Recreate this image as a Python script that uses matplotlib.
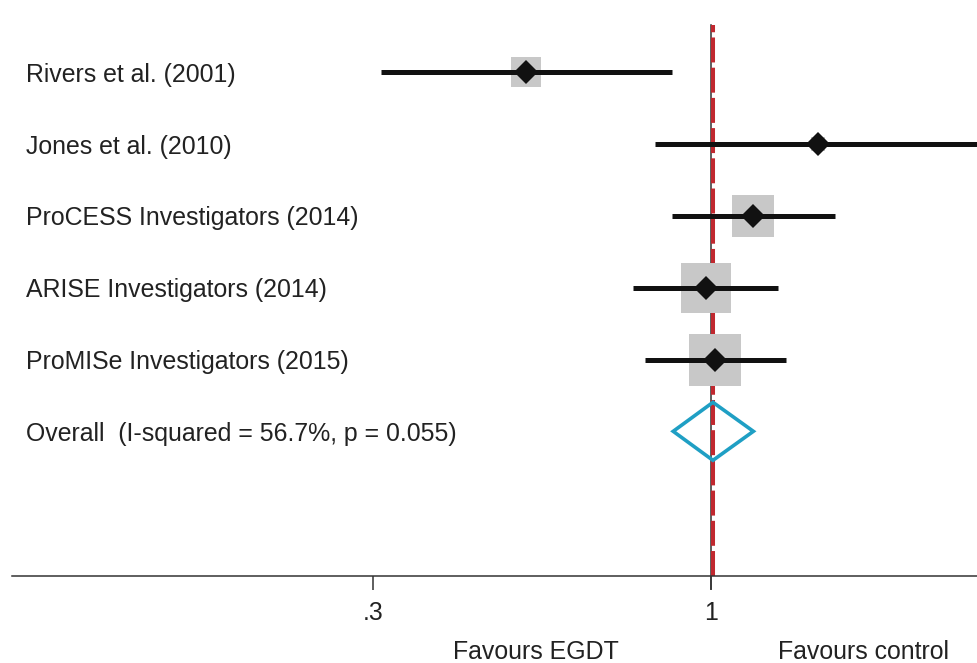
import numpy as np
import matplotlib
matplotlib.use("Agg")
import matplotlib.pyplot as plt
from matplotlib.patches import Polygon
from matplotlib.ticker import FixedLocator, FixedFormatter, NullLocator

# study data (odds ratio, 95% CI, weight %)
studies = ["Rivers et al. (2001)", "Jones et al. (2010)", "ProCESS Investigators (2014)",
           "ARISE Investigators (2014)", "ProMISe Investigators (2015)"]
estimates = [0.518, 1.463, 1.163, 0.982, 1.014]
lower_ci = [0.309, 0.819, 0.869, 0.758, 0.790]
upper_ci = [0.869, 3.20, 1.556, 1.271, 1.305]
weights = [11.0, 2.4, 22.7, 30.7, 33.2]

overall_label = "Overall  (I-squared = 56.7%, p = 0.055)"
overall_est = 1.007
overall_lo = 0.874
overall_hi = 1.163

tick_values = [0.3, 1]
tick_labels = [".3", "1"]
side_labels = ["Favours EGDT", "Favours control"]

plt.rcParams['font.family'] = ['Liberation Sans', 'DejaVu Sans']
FS = 17.9

fig = plt.figure(figsize=(9.78, 6.63), dpi=100)
ax = fig.add_axes([12 / 978, 1 - 576 / 663, 966 / 978, 551 / 663])
ax.set_xscale("log")
ax.set_xlim(0.0828, 2.59)
ax.set_ylim(7.015, -0.659)

# null line at 1
ax.plot([1, 1], [-0.659, 7.2], color="#333333", lw=1.1, zorder=1, clip_on=False)
# overall estimate line
ax.axvline(overall_est, color="#c0282f", lw=2.9, ls=(0, (6.2, 1.3)),
           dash_capstyle="butt", zorder=2)

label_drop = 0.131  # baseline sits a bit below the row centre

for i, (name, est, lo, hi, w) in enumerate(zip(studies, estimates, lower_ci, upper_ci, weights)):
    side_px = 9.02 * np.sqrt(w)
    ax.plot(est, i, marker="s", ms=side_px * 0.72, color="#c8c8c8", mew=0, zorder=3)
    ax.plot([lo, hi], [i, i], color="#111111", lw=3.6, solid_capstyle="butt", zorder=4)
    ax.plot(est, i, marker="D", ms=12.3, color="#111111", mew=0, zorder=5)
    ax.text(0.0145, i + label_drop, name, transform=ax.get_yaxis_transform(), ha="left",
            va="baseline", fontsize=FS, color="#222222")

# overall diamond
yo = len(studies)
dia = Polygon([[overall_lo, yo], [overall_est, yo - 0.404], [overall_hi, yo], [overall_est, yo + 0.404]],
              closed=True, fill=False, edgecolor="#1f9fc4", lw=2.6, zorder=6)
ax.add_patch(dia)
ax.text(0.0145, yo + label_drop, overall_label, transform=ax.get_yaxis_transform(), ha="left",
        va="baseline", fontsize=FS, color="#222222")

# axes styling
for s in ["left", "right", "top"]:
    ax.spines[s].set_visible(False)
ax.spines["bottom"].set_color("#333333")
ax.spines["bottom"].set_linewidth(1.1)
ax.yaxis.set_visible(False)
ax.xaxis.set_major_locator(FixedLocator(tick_values))
ax.xaxis.set_major_formatter(FixedFormatter(tick_labels))
ax.xaxis.set_minor_locator(NullLocator())
ax.tick_params(axis="x", direction="out", length=10, width=1.1, color="#333333",
               pad=8, labelsize=FS, labelcolor="#222222")

ax.text(0.5424, -0.150, side_labels[0], transform=ax.transAxes, ha="center", va="baseline",
        fontsize=FS, color="#222222")
ax.text(0.8815, -0.150, side_labels[1], transform=ax.transAxes, ha="center", va="baseline",
        fontsize=FS, color="#222222")

fig.savefig("out.png", dpi=100)
